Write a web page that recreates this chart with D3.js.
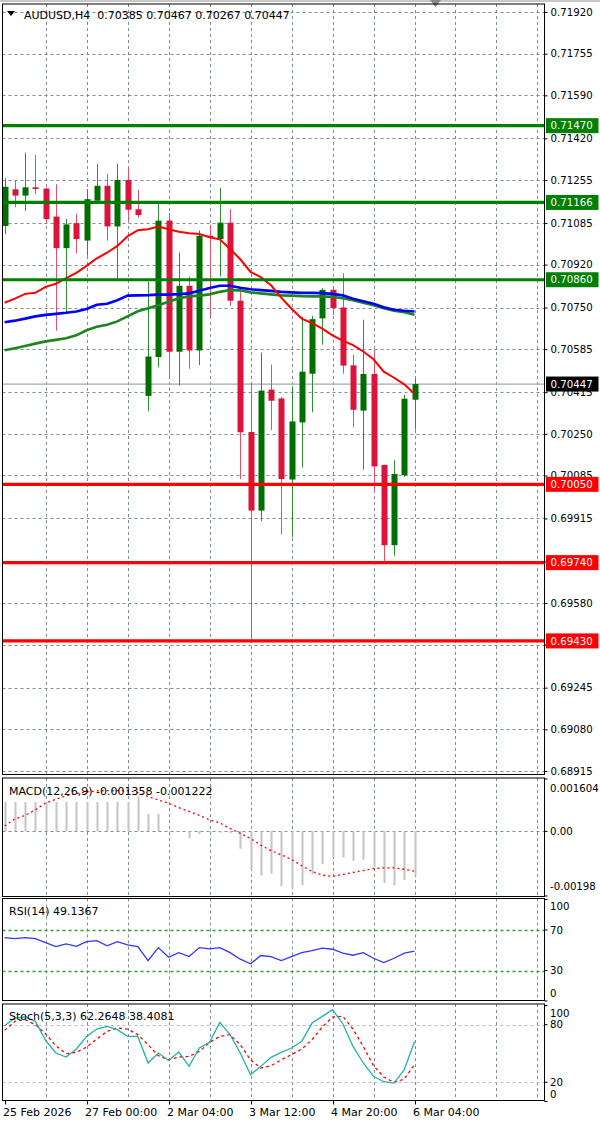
<!DOCTYPE html>
<html>
<head>
<meta charset="utf-8">
<script src="https://cdn.jsdelivr.net/npm/d3@7"></script>
<style>
  body { margin: 0; background: #fff; }
  text { font-family: "DejaVu Sans", sans-serif; font-size: 11px; fill: #000; }
  .axis-r text, text.axis-r { font-size: 10.2px; }
</style>
</head>
<body>
<div id="chart"></div>
<script>
// AUDUSD H4 candles, 25 Feb 16:00 .. 6 Mar 04:00
var opens  = [0.71073,0.71218,0.71193,0.71226,0.71221,0.71110,0.70985,0.71084,0.71015,0.71173,
              0.71232,0.71071,0.71255,0.71139,0.70400,0.70554,0.71094,0.70575,0.70836,0.70580,
              0.71034,0.71021,0.71086,0.70777,0.70257,0.69946,0.70425,0.70390,0.70069,0.70295,
              0.70488,0.70707,0.70820,0.70750,0.70521,0.70342,0.70487,0.70127,0.69809,0.70086,0.70385];
var highs  = [0.71262,0.71255,0.71363,0.71354,0.71225,0.71238,0.71100,0.71121,0.71219,0.71319,
              0.71279,0.71319,0.71304,0.71216,0.70853,0.71163,0.71126,0.70968,0.70873,0.71055,
              0.71077,0.71223,0.71139,0.70814,0.70451,0.70572,0.70524,0.70395,0.70438,0.70715,
              0.70717,0.70827,0.70826,0.70886,0.70563,0.70702,0.70583,0.70127,0.70145,0.70405,0.70467];
var lows   = [0.71040,0.71147,0.71132,0.71199,0.71090,0.70659,0.70728,0.70965,0.70955,0.71173,
              0.71015,0.70867,0.71093,0.71106,0.70339,0.70513,0.70477,0.70442,0.70508,0.70522,
              0.70711,0.70873,0.70757,0.70071,0.69432,0.69904,0.70264,0.69852,0.69840,0.70117,
              0.70335,0.70603,0.70721,0.70488,0.70276,0.70108,0.70022,0.69742,0.69768,0.70079,0.70267];
var closes = [0.71228,0.71193,0.71226,0.71219,0.71100,0.70985,0.71079,0.71021,0.71179,0.71232,
              0.71071,0.71255,0.71137,0.71116,0.70556,0.71094,0.70575,0.70836,0.70580,0.71034,
              0.71028,0.71086,0.70777,0.70256,0.69946,0.70421,0.70381,0.70071,0.70299,0.70496,
              0.70704,0.70820,0.70748,0.70520,0.70345,0.70487,0.70121,0.69809,0.70091,0.70389,0.70447];

// moving averages
var maRed   = [0.70769,0.70785,0.70804,0.70808,0.70832,0.70844,0.70866,0.70887,0.70915,0.70945,
               0.70967,0.70994,0.71032,0.71056,0.71060,0.71071,0.71060,0.71050,0.71044,0.71041,
               0.71028,0.71020,0.70982,0.70941,0.70891,0.70870,0.70838,0.70789,0.70745,0.70706,
               0.70688,0.70666,0.70640,0.70619,0.70601,0.70576,0.70545,0.70496,0.70472,0.70446,0.70409];
var maBlue  = [0.70692,0.70698,0.70706,0.70715,0.70721,0.70725,0.70729,0.70734,0.70744,0.70761,
               0.70765,0.70779,0.70797,0.70798,0.70799,0.70801,0.70801,0.70803,0.70806,0.70816,
               0.70827,0.70836,0.70836,0.70828,0.70822,0.70819,0.70816,0.70812,0.70810,0.70808,
               0.70808,0.70807,0.70804,0.70798,0.70785,0.70775,0.70765,0.70751,0.70741,0.70737,0.70734];
var maGreen = [0.70581,0.70589,0.70598,0.70607,0.70616,0.70622,0.70628,0.70640,0.70660,0.70674,
               0.70682,0.70695,0.70715,0.70735,0.70747,0.70759,0.70773,0.70787,0.70794,0.70797,
               0.70802,0.70812,0.70819,0.70818,0.70810,0.70806,0.70802,0.70798,0.70797,0.70795,
               0.70794,0.70794,0.70792,0.70787,0.70779,0.70769,0.70759,0.70747,0.70737,0.70731,0.70721];

// MACD(12,26,9)
var macdMain = [0.00090,0.00090,0.00090,0.00090,0.00090,0.00090,0.00090,0.00090,0.00090,0.00090,
                0.00090,0.00090,0.00090,0.00105,0.00053,0.00053,0.00001,-0.00002,-0.00020,-0.00008,
                -0.00005,-0.00004,-0.00006,-0.00053,-0.00117,-0.00135,-0.00130,-0.00168,-0.00175,-0.00165,
                -0.00131,-0.00100,-0.00080,-0.00080,-0.00090,-0.00087,-0.00110,-0.00158,-0.00165,-0.00149,-0.001358];
var macdSignal = [0.00017,0.00038,0.00049,0.00066,0.00087,0.00098,0.00109,0.00116,0.00121,0.00124,
                  0.00125,0.00125,0.00125,0.00119,0.00107,0.00096,0.00086,0.00073,0.00061,0.00049,
                  0.00035,0.00026,0.00009,-0.00006,-0.00022,-0.00042,-0.00059,-0.00072,-0.00086,-0.00105,
                  -0.00123,-0.00134,-0.00138,-0.00132,-0.00126,-0.00120,-0.00114,-0.00112,-0.00112,-0.00116,-0.001222];

// RSI(14)
var rsiValues = [62.5,61.5,62.5,61.5,57.5,53.6,56.2,53.9,58.5,59.5,
                 54.3,58.5,55.3,53.6,39.8,52.6,43.1,47.7,43.8,52.6,
                 51.3,52.6,47.7,41.2,36.6,44.8,43.8,39.8,43.8,47.7,
                 49.7,52.0,51.0,47.1,45.1,47.7,42.1,37.9,42.1,47.1,49.14];

// Stochastic(5,3,3)
var stochMain   = [79.0,86.9,88.0,83.5,63.7,50.5,46.3,54.7,67.8,75.5,
                   78.3,74.8,67.8,67.8,40.1,50.5,42.8,51.5,36.6,55.7,
                   61.6,82.4,69.6,50.5,27.9,36.6,46.0,51.2,55.7,62.6,
                   81.7,88.7,95.6,81.0,57.4,40.1,26.2,20.6,19.2,33.1,62.26];
var stochSignal = [74.1,83.5,85.2,80.0,70.6,58.1,49.8,51.2,56.7,65.1,
                   73.1,76.5,75.5,69.6,59.2,47.7,43.5,46.3,47.0,52.2,
                   61.6,67.8,69.6,59.2,43.5,34.9,37.3,43.5,48.8,54.7,
                   64.4,77.6,88.0,88.7,75.5,57.4,37.3,25.5,19.9,23.4,38.41];

var priceTicks = ["0.71920","0.71755","0.71590","0.71420","0.71255","0.71085","0.70920","0.70750",
                  "0.70585","0.70415","0.70250","0.70085","0.69915","0.69745","0.69580","0.69415",
                  "0.69245","0.69080","0.68915"];
var resistanceLevels = [0.71470, 0.71166, 0.70860];
var supportLevels = [0.70050, 0.69740, 0.69430];
var lastPrice = 0.70447;
var dateIndex = [0, 8, 16, 24, 32, 40];
var dateText = ["25 Feb 2026", "27 Feb 00:00", "2 Mar 04:00", "3 Mar 12:00", "4 Mar 20:00", "6 Mar 04:00"];
var titleText = "AUDUSD,H4  0.70385 0.70467 0.70267 0.70447";

var W = 600, H = 1123;
var left = 2.5, right = 544.5;
var gridColor = "#7f8c99";

var panels = {
  main:  {top: 4,     bottom: 774.5},
  macd:  {top: 778,   bottom: 896.5},
  rsi:   {top: 898.5, bottom: 1000.5},
  stoch: {top: 1004,  bottom: 1100.5}
};

var svg = d3.select("#chart").append("svg")
    .attr("width", W)
    .attr("height", H);

var x = d3.scaleLinear().domain([0, 40]).range([4.6, 414.5]);
var yMain = d3.scaleLinear().domain([0.68915, 0.71920]).range([771, 12]);
var yMacd = d3.scaleLinear().domain([-0.00198, 0.001604]).range([896, 779]);
var yRsi = d3.scaleLinear().domain([0, 100]).range([1001, 899.5]);
var yStoch = d3.scaleLinear().domain([0, 100]).range([1101.5, 1005.5]);

// top strip + shift marker
svg.append("rect").attr("x", 0).attr("y", 0).attr("width", W).attr("height", 2).style("fill", "#c8c8c8");
svg.append("path").attr("d", "M430,0 L441,0 L435.5,7 Z").style("fill", "#8a8a8a");

// clip paths per panel
var defs = svg.append("defs");
Object.keys(panels).forEach(function (k) {
  var p = panels[k];
  defs.append("clipPath").attr("id", "clip-" + k)
    .append("rect")
      .attr("x", left + 0.5).attr("y", p.top + 0.5)
      .attr("width", right - left - 1).attr("height", p.bottom - p.top - 1);
});

// vertical grid in every panel
var vGrid = d3.range(4, 53, 4);
Object.keys(panels).forEach(function (k) {
  var p = panels[k];
  svg.append("g").selectAll("line")
    .data(vGrid).enter().append("line")
      .attr("x1", function (d) { return Math.round(x(d)) + 0.5; })
      .attr("x2", function (d) { return Math.round(x(d)) + 0.5; })
      .attr("y1", p.top).attr("y2", p.bottom)
      .style("stroke", gridColor)
      .style("stroke-dasharray", "3,3");
});

// horizontal price grid
svg.append("g").selectAll("line")
  .data(priceTicks).enter().append("line")
    .attr("x1", left).attr("x2", right)
    .attr("y1", function (d) { return Math.round(yMain(+d)) + 0.5; })
    .attr("y2", function (d) { return Math.round(yMain(+d)) + 0.5; })
    .style("stroke", gridColor)
    .style("stroke-dasharray", "3,3");

// price axis
var priceAxis = svg.append("g")
    .attr("class", "axis-r")
    .attr("transform", "translate(" + right + ",0)")
    .call(d3.axisRight(yMain).tickValues(priceTicks.map(Number))
      .tickFormat(function (d, i) { return priceTicks[i]; })
      .tickSize(3).tickPadding(3));
priceAxis.select(".domain").remove();
priceAxis.selectAll("text").style("font-family", "DejaVu Sans").style("font-size", "10.2px");

var main = svg.append("g").attr("clip-path", "url(#clip-main)");

// last price line (behind candles)
main.append("line")
    .attr("x1", left).attr("x2", right)
    .attr("y1", yMain(lastPrice)).attr("y2", yMain(lastPrice))
    .style("stroke", "#a3a8b3").style("stroke-width", 1.2);

// candles
var candles = d3.range(opens.length);
var bull = "#006f00", bear = "#dc143c";
main.append("g").selectAll("line")
  .data(candles).enter().append("line")
    .attr("x1", function (i) { return Math.round(x(i)) + 0.5; })
    .attr("x2", function (i) { return Math.round(x(i)) + 0.5; })
    .attr("y1", function (i) { return yMain(highs[i]); })
    .attr("y2", function (i) { return yMain(lows[i]); })
    .style("stroke", function (i) { return closes[i] >= opens[i] ? "#2f8f2f" : "#e0506a"; })
    .style("stroke-width", 1);

main.append("g").selectAll("rect")
  .data(candles).enter().append("rect")
    .attr("x", function (i) { return Math.round(x(i)) - 2.5; })
    .attr("width", 6)
    .attr("y", function (i) { return yMain(Math.max(opens[i], closes[i])); })
    .attr("height", function (i) { return Math.max(1.5, Math.abs(yMain(opens[i]) - yMain(closes[i]))); })
    .style("fill", function (i) { return closes[i] >= opens[i] ? bull : bear; });

// moving averages
var maLine = d3.line().x(function (d, i) { return x(i); }).y(function (d) { return yMain(d); });
main.append("path").datum(maGreen).attr("d", maLine)
    .style("fill", "none").style("stroke", "#1c861c").style("stroke-width", 2.6);
main.append("path").datum(maBlue).attr("d", maLine)
    .style("fill", "none").style("stroke", "#0000ff").style("stroke-width", 2.6);
main.append("path").datum(maRed).attr("d", maLine)
    .style("fill", "none").style("stroke", "#ff0000").style("stroke-width", 2);

// support / resistance lines
main.append("g").selectAll("line")
  .data(resistanceLevels).enter().append("line")
    .attr("x1", left).attr("x2", right)
    .attr("y1", function (d) { return yMain(d); })
    .attr("y2", function (d) { return yMain(d); })
    .style("stroke", "#008000").style("stroke-width", 3.2);
main.append("g").selectAll("line")
  .data(supportLevels).enter().append("line")
    .attr("x1", left).attr("x2", right)
    .attr("y1", function (d) { return yMain(d); })
    .attr("y2", function (d) { return yMain(d); })
    .style("stroke", "#ff0000").style("stroke-width", 3.2);

// price labels on the axis
function priceTag(value, fill) {
  var y = yMain(value);
  svg.append("rect")
    .attr("x", right + 1.5).attr("y", y - 7.5)
    .attr("width", W - right - 3).attr("height", 15)
    .style("fill", fill);
  svg.append("text")
    .attr("class", "axis-r")
    .attr("x", right + 6).attr("y", y + 3.7)
    .style("fill", "#fff")
    .text(value.toFixed(5));
}
resistanceLevels.forEach(function (v) { priceTag(v, "#008000"); });
supportLevels.forEach(function (v) { priceTag(v, "#ff0000"); });
priceTag(lastPrice, "#000");

// title
svg.append("path").attr("d", "M7,11 L15,11 L11,16 Z").style("fill", "#000");
svg.append("text")
    .attr("x", 24).attr("y", 19)
    .style("white-space", "pre")
    .text(titleText);

// MACD panel
var macdG = svg.append("g").attr("clip-path", "url(#clip-macd)");
macdG.append("line")
    .attr("x1", left).attr("x2", right)
    .attr("y1", Math.round(yMacd(0)) + 0.5).attr("y2", Math.round(yMacd(0)) + 0.5)
    .style("stroke", gridColor).style("stroke-dasharray", "3,3");
macdG.append("g").selectAll("line")
  .data(macdMain).enter().append("line")
    .attr("x1", function (d, i) { return Math.round(x(i)) + 0.5; })
    .attr("x2", function (d, i) { return Math.round(x(i)) + 0.5; })
    .attr("y1", yMacd(0))
    .attr("y2", function (d) { return yMacd(d); })
    .style("stroke", "#c4c4c4").style("stroke-width", 2);
macdG.append("path").datum(macdSignal)
    .attr("d", d3.line().x(function (d, i) { return x(i); }).y(function (d) { return yMacd(d); }))
    .style("fill", "none").style("stroke", "#ff0000").style("stroke-width", 1.3)
    .style("stroke-dasharray", "2,3");
svg.append("text").attr("x", 9).attr("y", 795).text("MACD(12,26,9) -0.001358 -0.001222");
[[0.001604, "0.001604", 13], [0, "0.00", 3.7], [-0.00198, "-0.00198", -6]].forEach(function (t) {
  svg.append("text").attr("class", "axis-r").attr("x", 550).attr("y", yMacd(t[0]) + t[2]).text(t[1]);
  svg.append("line").attr("x1", right).attr("x2", right + 3)
    .attr("y1", yMacd(t[0])).attr("y2", yMacd(t[0])).style("stroke", "#000");
});

// RSI panel
var rsiG = svg.append("g").attr("clip-path", "url(#clip-rsi)");
rsiG.append("g").selectAll("line")
  .data([70, 30]).enter().append("line")
    .attr("x1", left).attr("x2", right)
    .attr("y1", function (d) { return Math.round(yRsi(d)) + 0.5; })
    .attr("y2", function (d) { return Math.round(yRsi(d)) + 0.5; })
    .style("stroke", "#2f9f2f").style("stroke-width", 1.3).style("stroke-dasharray", "3,3");
rsiG.append("path").datum(rsiValues)
    .attr("d", d3.line().x(function (d, i) { return x(i); }).y(function (d) { return yRsi(d); }))
    .style("fill", "none").style("stroke", "#3434ff").style("stroke-width", 1.3);
svg.append("text").attr("x", 9).attr("y", 915).text("RSI(14) 49.1367");
[[100, 10], [70, 3.7], [30, 3.7], [0, -4]].forEach(function (t) {
  svg.append("text").attr("class", "axis-r").attr("x", 550).attr("y", yRsi(t[0]) + t[1]).text(t[0]);
  svg.append("line").attr("x1", right).attr("x2", right + 3)
    .attr("y1", yRsi(t[0])).attr("y2", yRsi(t[0])).style("stroke", "#000");
});

// Stochastic panel
var stG = svg.append("g").attr("clip-path", "url(#clip-stoch)");
stG.append("g").selectAll("line")
  .data([80, 20]).enter().append("line")
    .attr("x1", left).attr("x2", right)
    .attr("y1", function (d) { return Math.round(yStoch(d)) + 0.5; })
    .attr("y2", function (d) { return Math.round(yStoch(d)) + 0.5; })
    .style("stroke", "#bdbdbd").style("stroke-dasharray", "3,3");
var stLine = d3.line().x(function (d, i) { return x(i); }).y(function (d) { return yStoch(d); });
stG.append("path").datum(stochSignal).attr("d", stLine)
    .style("fill", "none").style("stroke", "#ff0000").style("stroke-width", 1.3)
    .style("stroke-dasharray", "3,3");
stG.append("path").datum(stochMain).attr("d", stLine)
    .style("fill", "none").style("stroke", "#20b2aa").style("stroke-width", 1.3);
svg.append("text").attr("x", 9).attr("y", 1020).text("Stoch(5,3,3) 62.2648 38.4081");
[[100, 11], [80, 3.7], [20, 3.7], [0, -4]].forEach(function (t) {
  svg.append("text").attr("class", "axis-r").attr("x", 550).attr("y", yStoch(t[0]) + t[1]).text(t[0]);
  svg.append("line").attr("x1", right).attr("x2", right + 3)
    .attr("y1", yStoch(t[0])).attr("y2", yStoch(t[0])).style("stroke", "#000");
});

// panel frames
Object.keys(panels).forEach(function (k) {
  var p = panels[k];
  svg.append("rect")
    .attr("x", left).attr("y", p.top)
    .attr("width", right - left).attr("height", p.bottom - p.top)
    .style("fill", "none").style("stroke", "#000").style("stroke-width", 1);
});

// time axis
var timeAxis = svg.append("g")
    .attr("transform", "translate(0," + panels.stoch.bottom + ")")
    .call(d3.axisBottom(x).tickValues(dateIndex)
      .tickFormat(function (d, i) { return dateText[i]; })
      .tickSize(4).tickPadding(4));
timeAxis.select(".domain").remove();
timeAxis.selectAll(".tick line").attr("x1", 0.5).attr("x2", 0.5);
timeAxis.selectAll("text")
    .attr("text-anchor", "start")
    .attr("dx", "-2")
    .style("font-family", "DejaVu Sans").style("font-size", "11px");
</script>
</body>
</html>
